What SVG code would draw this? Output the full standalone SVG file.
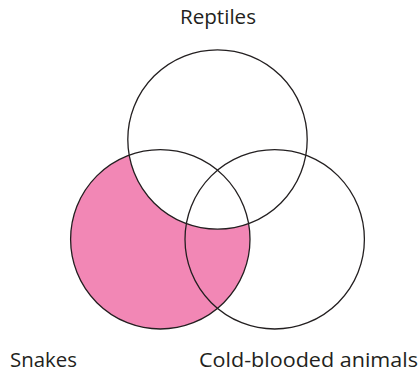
<svg xmlns="http://www.w3.org/2000/svg" width="420" height="373" viewBox="0 0 420 373">
<style>
.ring{fill:none;stroke:#231f20;stroke-width:1.3}
.lbl{font-family:"Open Sans","Noto Sans",sans-serif;font-size:20px;fill:#231f20}
</style>
<rect width="420" height="373" fill="#fff"/>
<g id="fills">
<circle cx="160.3" cy="239.3" r="89.7" fill="#F287B5"/>
<circle cx="217.5" cy="139.5" r="89.7" fill="#fff"/>
</g>
<g id="reptiles">
<circle class="ring" cx="217.5" cy="139.5" r="89.7"/>
<text class="lbl" x="180" y="24" textLength="76" lengthAdjust="spacingAndGlyphs">Reptiles</text>
</g>
<g id="snakes">
<circle class="ring" cx="160.3" cy="239.3" r="89.7"/>
<text class="lbl" x="10" y="366.5" textLength="67" lengthAdjust="spacingAndGlyphs">Snakes</text>
</g>
<g id="cold-blooded">
<circle class="ring" cx="274.7" cy="239.3" r="89.7"/>
<text class="lbl" x="199" y="366.5" textLength="219" lengthAdjust="spacingAndGlyphs">Cold-blooded animals</text>
</g>
<g id="connectors"></g>
</svg>
